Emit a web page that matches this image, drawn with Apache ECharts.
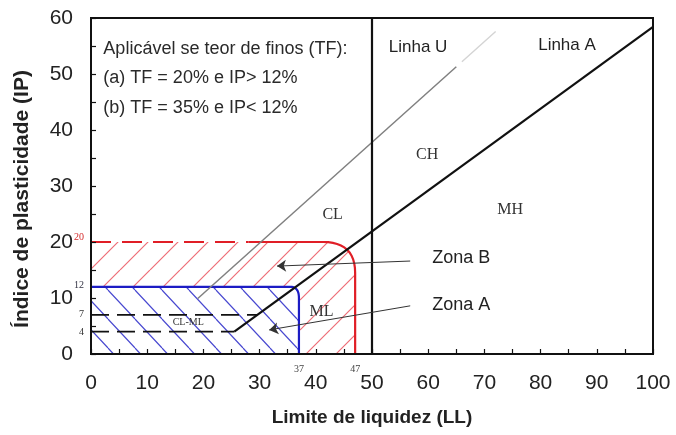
<!DOCTYPE html>
<html>
<head>
<meta charset="utf-8">
<script src="https://cdn.jsdelivr.net/npm/echarts@6/dist/echarts.min.js"></script>
<style>
  html, body { margin: 0; padding: 0; background: #fff; }
  #chart { width: 676px; height: 435px; }
</style>
</head>
<body>
<div id="chart"></div>
<script>
// Plasticity chart (Casagrande) with the two fines-content zones
const llTicks = [0, 10, 20, 30, 40, 50, 60, 70, 80, 90, 100];
const ipTicks = [0, 10, 20, 30, 40, 50, 60];

const lineA = [[25.5, 4], [100, 58.4]];        // IP = 0.73 (LL - 20)
const lineU = [[19, 9.9], [65, 51.3]];         // IP = 0.9 (LL - 8)
const lineUFaint = [[66, 52.2], [72, 57.6]];
const clml7 = [[0, 7], [29.6, 7]];
const clml4 = [[0, 4], [25.5, 4]];
const llDivider = [[50, 0], [50, 60]];

const zoneB = [47, 20];                        // LL limit, IP limit
const zoneA = [37, 12];
const zoneBDashEnd = 28;                       // LL where the dashed top edge of zone B ends

const soilNames = ['CL', 'CH', 'MH', 'ML', 'CL-ML'];
const soilAt = [[43, 24.8], [59.8, 35.5], [74.6, 25.7], [41, 7.5], [17.3, 5.7]];
const lineNames = ['Linha U', 'Linha A'];
const lineNameAt = [[58.2, 54.8], [84.7, 55.2]];
const zoneNames = ['Zona B', 'Zona A'];
const zoneNameAt = [[60.7, 17.1], [60.7, 8.7]];
const zoneArrows = [
  [[56.8, 16.6], [33.1, 15.7]],
  [[56.8, 8.6], [31.7, 4.3]]
];
const noteLines = ['Aplicável se teor de finos (TF):', '(a) TF = 20% e IP> 12%', '(b) TF = 35% e IP< 12%'];
const noteAt = [[2.2, 54.5], [2.2, 49.2], [2.2, 44.0]];
const ipMarks = [20, 12, 7, 4];
const llMarks = [37, 47];

const SANS = '"Liberation Sans", Arial, sans-serif';
const SERIF = '"Liberation Serif", "Times New Roman", serif';
const RED = '#e01e26';
const BLUE = '#1c1cc4';

// diagonal hatch tiles
function hatch(w, h, color, rising, width) {
  const c = document.createElement('canvas');
  c.width = w; c.height = h;
  const g = c.getContext('2d');
  g.strokeStyle = color;
  g.lineWidth = width;
  g.beginPath();
  for (const k of [-w, 0, w]) {
    if (rising) { g.moveTo(k, h); g.lineTo(k + w, 0); }
    else { g.moveTo(k, 0); g.lineTo(k + w, h); }
  }
  g.stroke();
  return c;
}
const redHatch = { image: hatch(30, 30, 'rgba(232,60,72,0.75)', true, 1.2), repeat: 'repeat' };
const blueHatch = { image: hatch(27, 29, 'rgba(40,40,200,0.85)', false, 1.2), repeat: 'repeat' };

// rounded top-right corner sizes in data units (LL, IP)
const cornerSize = [[5.7, 5.5], [1.5, 2]];

function cornerPoints(api, ll, ip, c) {
  const a = api.coord([ll - c[0], ip]);
  const k = api.coord([ll, ip]);
  const b = api.coord([ll, ip - c[1]]);
  const pts = [];
  for (let i = 0; i <= 12; i++) {
    const t = i / 12, u = 1 - t;
    pts.push([u * u * a[0] + 2 * u * t * k[0] + t * t * b[0],
              u * u * a[1] + 2 * u * t * k[1] + t * t * b[1]]);
  }
  return pts;
}

function renderZone(params, api) {
  const ll = api.value(0), ip = api.value(1);
  const idx = params.dataIndex;
  const corner = cornerPoints(api, ll, ip, cornerSize[idx]);
  const outline = [api.coord([0, 0]), api.coord([0, ip])].concat(corner, [api.coord([ll, 0])]);
  const children = [];
  if (idx === 0) {
    children.push({ type: 'polygon', shape: { points: outline }, style: { fill: redHatch } });
    children.push({ type: 'polyline',
      shape: { points: [api.coord([0, ip]), api.coord([zoneBDashEnd, ip])] },
      style: { stroke: RED, lineWidth: 2.2, fill: null, lineDash: [20, 11] } });
    children.push({ type: 'polyline',
      shape: { points: [api.coord([zoneBDashEnd, ip])].concat(corner, [api.coord([ll, 0])]) },
      style: { stroke: RED, lineWidth: 2.2, fill: null } });
  } else {
    children.push({ type: 'polygon', shape: { points: outline }, style: { fill: '#fff' } });
    children.push({ type: 'polygon', shape: { points: outline }, style: { fill: blueHatch } });
    children.push({ type: 'polyline',
      shape: { points: [api.coord([0, ip])].concat(corner, [api.coord([ll, 0])]) },
      style: { stroke: BLUE, lineWidth: 2.2, fill: null } });
  }
  return { type: 'group', children };
}

function textSeries(points, texts, style, opts) {
  const o = opts || {};
  return {
    type: 'custom', coordinateSystem: 'cartesian2d', z: 6, silent: true,
    data: points,
    renderItem(params, api) {
      const p = api.coord([api.value(0), api.value(1)]);
      const s = Object.assign({ text: texts[params.dataIndex] }, style);
      if (o.colors) s.fill = o.colors[params.dataIndex];
      const dy = Array.isArray(o.dy) ? o.dy[params.dataIndex] : (o.dy || 0);
      return { type: 'text', x: p[0] + (o.dx || 0), y: p[1] + dy, style: s };
    }
  };
}

function lineSeries(data, color, width, type, z) {
  return {
    type: 'line', data, symbol: 'none', z: z || 4, silent: true,
    lineStyle: { color, width, type: type || 'solid' }
  };
}

const axisCommon = {
  type: 'value',
  z: 10,
  splitLine: { show: false },
  axisLine: { show: true, lineStyle: { color: '#111', width: 2 } },
  axisTick: { show: true, inside: true, length: 5, lineStyle: { color: '#111', width: 1.2 } },
  minorTick: { show: true, splitNumber: 2, length: 5, lineStyle: { color: '#111', width: 1.2 } },
  axisLabel: { color: '#222', fontSize: 21, fontFamily: SANS }
};

const chart = echarts.init(document.getElementById('chart'), null, { renderer: 'canvas' });
chart.setOption({
  animation: false,
  backgroundColor: '#fff',
  grid: { left: 91, right: 23, top: 18, bottom: 81, show: true, z: 10,
          containLabel: false, outerBoundsMode: 'none',
          borderColor: '#111', borderWidth: 2, backgroundColor: 'transparent' },
  xAxis: Object.assign({}, axisCommon, {
    min: llTicks[0], max: llTicks[llTicks.length - 1], interval: llTicks[1] - llTicks[0],
    name: 'Limite de liquidez (LL)', nameLocation: 'middle', nameGap: 54,
    nameTextStyle: { color: '#222', fontSize: 19, fontWeight: 'bold', fontFamily: SANS },
    axisLabel: Object.assign({}, axisCommon.axisLabel, { margin: 19 })
  }),
  yAxis: Object.assign({}, axisCommon, {
    min: ipTicks[0], max: ipTicks[ipTicks.length - 1], interval: ipTicks[1] - ipTicks[0],
    name: 'Índice de plasticidade (IP)', nameLocation: 'middle', nameGap: 58, nameRotate: 90,
    nameTextStyle: { color: '#222', fontSize: 21, fontWeight: 'bold', fontFamily: SANS,
                     padding: [0, 26, 0, 0] },
    axisLabel: Object.assign({}, axisCommon.axisLabel, { margin: 18 })
  }),
  series: [
    { type: 'custom', coordinateSystem: 'cartesian2d', z: 2, silent: true,
      data: [zoneB, zoneA], renderItem: renderZone },
    lineSeries(clml7, '#111', 1.8, [18, 8]),
    lineSeries(clml4, '#111', 1.8, [18, 8]),
    lineSeries(lineUFaint, '#d4d4d4', 1.4),
    lineSeries(lineU, '#808080', 1.5),
    lineSeries(lineA, '#111', 2.2),
    lineSeries(llDivider, '#111', 2.2),
    { type: 'lines', coordinateSystem: 'cartesian2d', z: 5, silent: true,
      symbol: ['none', 'arrow'], symbolSize: 9,
      lineStyle: { color: '#333', width: 1, opacity: 1 },
      data: zoneArrows.map(c => ({ coords: c })) },
    textSeries(soilAt.slice(0, 4), soilNames.slice(0, 4),
      { fill: '#333', font: '16px ' + SERIF, align: 'center', verticalAlign: 'middle' }),
    textSeries(soilAt.slice(4), soilNames.slice(4),
      { fill: '#333', font: '10px ' + SERIF, align: 'center', verticalAlign: 'middle' }),
    textSeries(lineNameAt, lineNames,
      { fill: '#222', font: '17px ' + SANS, align: 'center', verticalAlign: 'middle' }),
    textSeries(zoneNameAt, zoneNames,
      { fill: '#222', font: '18px ' + SANS, align: 'left', verticalAlign: 'middle' }),
    textSeries(noteAt, noteLines,
      { fill: '#2a2a2a', font: '18px ' + SANS, align: 'left', verticalAlign: 'middle' }),
    textSeries(ipMarks.map(v => [0, v]), ipMarks.map(String),
      { font: '10px ' + SERIF, align: 'right', verticalAlign: 'middle' },
      { dx: -7, dy: [-5, -1, 0, 1], colors: ['#d42a2a', '#334', '#333', '#333'] }),
    textSeries(llMarks.map(v => [v, 0]), llMarks.map(String),
      { fill: '#444', font: '10px ' + SERIF, align: 'center', verticalAlign: 'middle' },
      { dy: 15 })
  ]
});
</script>
</body>
</html>
